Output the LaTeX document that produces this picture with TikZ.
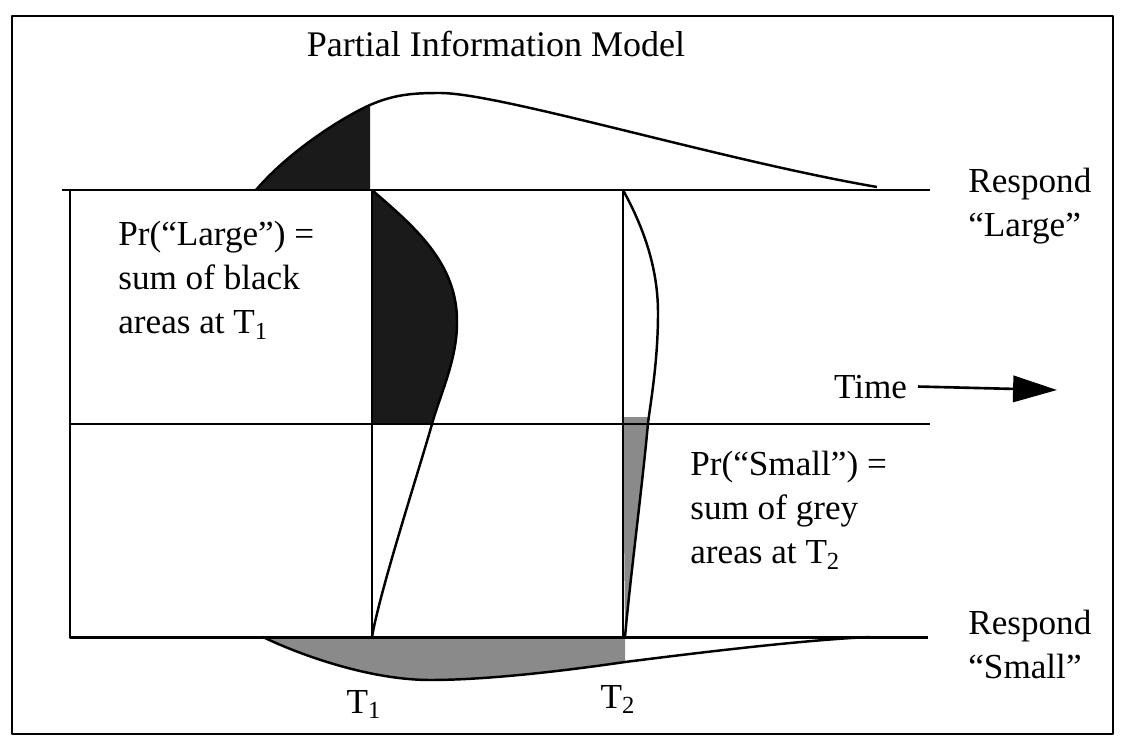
\documentclass[tikz,border=0pt]{standalone}
\usepackage{fontspec}
\setmainfont{Liberation Serif}
\usetikzlibrary{arrows.meta}
\definecolor{blackarea}{HTML}{1A1A1A}
\definecolor{greyarea}{HTML}{8A8A8A}
\tikzset{every path/.style={black, line join=round},
  frame line/.style={line width=1.6pt},
  axis line/.style={line width=1.7pt},
  grid line/.style={line width=1.2pt},
  density/.style={line width=1.4pt},
  label text/.style={font=\fontsize{20}{25}\selectfont, inner sep=0pt, align=left}}

\begin{document}
\begin{tikzpicture}[x=0.2mm,y=-0.2mm]
  \useasboundingbox (0,0) rectangle (1126,746);
  \coordinate (ltop) at (62,190);
  \coordinate (rtop) at (930,190);
  \coordinate (lcorner) at (70,190);
  \coordinate (lbot) at (70,637);
  \coordinate (rbot) at (928,637);
  \coordinate (lmid) at (70,424);
  \coordinate (rmid) at (930,424);
  \coordinate (onetop) at (372,190);
  \coordinate (onebot) at (372,637);
  \coordinate (twotop) at (623,190);
  \coordinate (twobot) at (623,637);
  \coordinate (timetip) at (1057,390);
  % shaded areas
  \fill[blackarea]
   (256,190) .. controls (290,150) and (345,116) ..
   (370,105) -- (370,190) -- cycle;
  \fill[blackarea]
   (372,190) .. controls (412,225) and (458,262) ..
   (457,323) .. controls (457,360) and (440,395) ..
   (432,424) -- (372,424) -- cycle;
  \fill[greyarea]
   (623,417) -- (649,417) -- (648,423) .. controls (643,480) and (630,580) ..
   (625,637) -- cycle;
  \fill[greyarea]
   (263,637) .. controls (300,655) and (370,680) ..
   (430,680) .. controls (490,680) and (570,670) ..
   (625,662) -- (625,637) -- cycle;
  % densities
  \draw[density]
   (256,190) .. controls (290,150) and (345,116) ..
   (370,105) .. controls (395,94) and (415,93) ..
   (440,93)  .. controls (500,93) and (720,160) .. (877,187);
  \draw[density]
   (onetop)  .. controls (412,225) and (458,262) ..
   (457,323) .. controls (457,360) and (440,395) ..
   (432,424) .. controls (420,467) and (380,590) .. (onebot);
  \draw[density]
   (twotop)  .. controls (645,230) and (658,270) ..
   (658,313) .. controls (658,360) and (651,400) ..
   (648,423) .. controls (643,480) and (630,580) .. (625,637);
  \draw[density]
   (263,637) .. controls (300,655) and (370,680) ..
   (430,680) .. controls (490,680) and (570,670) ..
   (625,662) .. controls (680,655) and (800,640) .. (870,637);
  % lines
  \draw[axis line] (ltop) -- (rtop);
  \draw[axis line] (lcorner) -- (lbot) -- (rbot);
  \draw[grid line] (lmid) -- (rmid);
  \draw[grid line] (onetop) -- (onebot);
  \draw[grid line] (twotop) -- (twobot);
  \draw[frame line] (12,16) rectangle (1113,734);
  % texts
  \node[label text, font=\fontsize{20.5}{25}\selectfont, anchor=base] (title) at (496,57) {Partial Information Model};
  \node[label text, anchor=north west] (prlarge) at (118,221)
   {Pr(“Large”) =\\sum of black\\areas at T\textsubscript{1}};
  \node[label text, anchor=north west] (prsmall) at (690,451)
   {Pr(“Small”) =\\sum of grey\\areas at T\textsubscript{2}};
  \node[label text, anchor=north west] (resplarge) at (968,168) {Respond\\“Large”};
  \node[label text, anchor=north west] (respsmall) at (968,610) {Respond\\“Small”};
  \node[label text, anchor=base east, outer xsep=2.2mm] (time) at (918,398) {Time};
  \node[label text, anchor=base] (tone) at (364,713) {T\textsubscript{1}};
  \node[label text, anchor=base] (ttwo) at (618,708) {T\textsubscript{2}};
  \draw[line width=1.5pt, -{Triangle[length=25pt,width=15pt]}] (time.east) -- (timetip);
\end{tikzpicture}
\end{document}
